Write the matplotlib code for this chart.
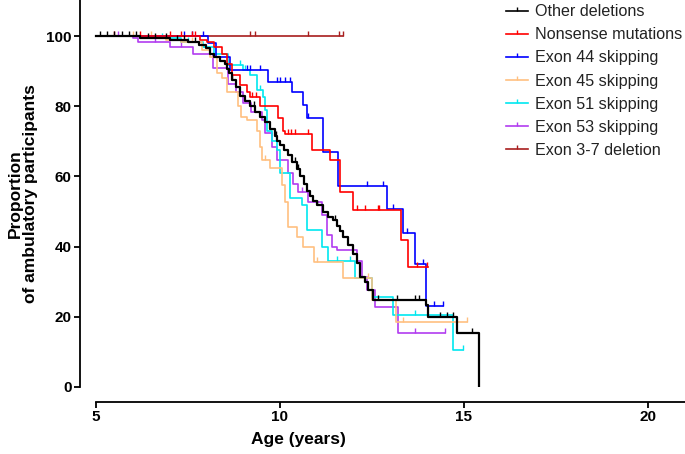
import numpy as np
import matplotlib
matplotlib.use("Agg")
import matplotlib.pyplot as plt
from matplotlib.lines import Line2D

plt.rcParams['font.family'] = ['Liberation Sans', 'DejaVu Sans']

# step change points (age in years, % still ambulatory), end of follow-up, censor marks
other_t = [6.2, 7.0, 7.5, 7.8, 8.0, 8.1, 8.2, 8.37, 8.51, 8.56, 8.62, 8.70, 8.80, 8.91,
           9.05, 9.18, 9.32, 9.46, 9.59, 9.73, 9.86, 9.92, 10.00, 10.10, 10.22, 10.33,
           10.45, 10.54, 10.65, 10.73, 10.82, 10.90, 11.00, 11.17, 11.30, 11.44, 11.55,
           11.63, 11.71, 11.85, 11.98, 12.09, 12.17, 12.31, 12.39, 12.53, 13.97, 14.02,
           14.81, 15.41]
other_s = [99.4, 98.8, 98.2, 97.5, 96.5, 95, 94, 93, 92, 90.5, 89.5, 87.5, 85.5, 83,
           81.5, 80, 78.5, 77, 75.5, 73.5, 71.5, 70, 69, 67.5, 66, 64, 62, 60, 58, 56,
           54.5, 53, 52, 50, 48.5, 47.5, 46, 44.5, 42.7, 40.5, 38, 35.3, 31.3, 30, 27.6,
           24.8, 23.4, 20, 15.4, 0]
other_end = 15.41
other_cens = [5.1, 5.3, 5.5, 5.7, 5.9, 6.1, 6.4, 6.6, 6.9, 7.2, 7.4, 7.7, 8.7, 9.3,
              9.9, 10.4, 10.5, 11.0, 11.5, 12.66, 13.18, 13.67, 13.78, 14.35, 14.54,
              14.70, 15.22]

nons_t = [7.83, 8.02, 8.2, 8.42, 8.56, 8.70, 8.91, 9.10, 9.18, 9.46, 9.95, 10.08,
          10.14, 10.87, 11.36, 11.63, 11.98, 13.29, 13.48]
nons_s = [99, 98.3, 97, 95, 92, 89, 86, 84, 82.6, 80, 76.6, 73, 72, 67.5, 64.7, 55.6,
          50.4, 42, 34.2]
nons_end = 14.02
nons_cens = [5.5, 6.2, 7.0, 7.3, 7.6, 7.7, 9.25, 9.35, 10.22, 10.3, 10.4, 10.75,
             12.09, 12.31, 12.66, 12.69, 13.72, 13.99]

ex44_t = [8.04, 8.26, 8.64, 9.67, 10.33, 10.63, 10.73, 11.17, 11.58, 12.91, 13.34,
          13.67, 13.97]
ex44_s = [98, 94, 90.3, 87, 84, 80.3, 76.6, 67, 57.3, 50.7, 43.9, 35, 23]
ex44_end = 14.43
ex44_cens = [7.4, 7.6, 7.9, 9.1, 9.18, 9.46, 9.92, 10.0, 10.14, 10.27, 10.76, 12.36,
             12.8, 13.07, 13.45, 13.89, 14.18, 14.43]

ex45_t = [6.9, 7.3, 7.88, 8.1, 8.29, 8.42, 8.56, 8.85, 8.95, 9.10, 9.38, 9.46, 9.51,
          9.73, 10.05, 10.14, 10.22, 10.46, 10.63, 10.92, 11.71, 12.50, 13.15]
ex45_s = [99, 98.3, 96, 94, 89.5, 88, 84, 80, 77, 76, 73, 68.5, 64.7, 62.4, 57.5, 52.7,
          45.6, 42.7, 39.9, 35.6, 31, 24.8, 18.5]
ex45_end = 15.08
ex45_cens = [6.0, 6.5, 7.6, 9.6, 11.0, 12.4, 13.34, 15.08]

ex51_t = [6.5, 7.3, 7.9, 8.2, 8.59, 9.0, 9.18, 9.38, 9.54, 9.59, 9.65, 9.78, 9.92,
          10.0, 10.27, 10.60, 10.73, 11.14, 11.30, 12.04, 12.50, 13.07, 14.70]
ex51_s = [99.4, 98.3, 97, 95, 91.7, 90.4, 89, 84.6, 82.6, 79, 73, 70, 67.5, 61, 54,
          51.8, 44.7, 40, 36, 31, 25.6, 20.5, 10.5]
ex51_end = 14.97
ex51_cens = [6.8, 7.5, 8.91, 9.05, 9.45, 11.55, 11.9, 13.67, 14.97]

ex53_t = [6.01, 6.14, 7.01, 7.64, 8.18, 8.59, 8.8, 9.0, 9.2, 9.51, 9.59, 9.78, 9.92,
          10.22, 10.35, 10.49, 10.76, 11.14, 11.28, 11.41, 11.55, 12.09, 12.23, 12.36,
          12.58, 13.21]
ex53_s = [99.4, 98.3, 97, 95, 91, 86.5, 84, 81, 78.5, 76, 72.4, 68.4, 64.7, 61, 58,
          55.6, 52.7, 49, 43.3, 40, 39, 36, 31.3, 27.6, 22.8, 15.4]
ex53_end = 14.48
ex53_cens = [5.6, 6.6, 7.3, 10.6, 13.67, 14.48]

ex37_t = []
ex37_s = []
ex37_end = 11.71
ex37_cens = [9.18, 9.32, 10.76, 11.6, 11.71]

labels = ["Other deletions", "Nonsense mutations", "Exon 44 skipping",
          "Exon 45 skipping", "Exon 51 skipping", "Exon 53 skipping", "Exon 3-7 deletion"]
colors = ["#000000", "#ff0000", "#0000ff", "#ffc080", "#00e8f0", "#b23cf0", "#a81e1e"]

series = [
    (other_t, other_s, other_end, other_cens),
    (nons_t, nons_s, nons_end, nons_cens),
    (ex44_t, ex44_s, ex44_end, ex44_cens),
    (ex45_t, ex45_s, ex45_end, ex45_cens),
    (ex51_t, ex51_s, ex51_end, ex51_cens),
    (ex53_t, ex53_s, ex53_end, ex53_cens),
    (ex37_t, ex37_s, ex37_end, ex37_cens),
]


def km_value(t, times, vals):
    i = np.searchsorted(times, t, side='right')
    return 100.0 if i == 0 else vals[i - 1]


fig = plt.figure(figsize=(6.85, 4.54), dpi=100)
ax = fig.add_axes([80 / 685, 1 - 387 / 454, 1 - 80 / 685, 387 / 454])

# draw back to front so black ends up on top like the original
order = [6, 3, 4, 5, 2, 1, 0]
for k in order:
    times, vals, end, cens = series[k]
    t = [5.0] + list(times) + [end]
    s = [100.0] + list(vals) + [vals[-1] if vals else 100.0]
    lw = 1.6 if k == 0 else 1.2
    ax.step(t, s, where='post', color=colors[k], lw=lw, zorder=3 + (6 - k))
    cy = [km_value(c, times, vals) for c in cens]
    ax.plot(cens, cy, ls='none', marker=2, ms=3.5, mew=1.0, color=colors[k],
            zorder=3 + (6 - k))

ax.set_xlim(5 - 16 / 36.8, 5 + 589 / 36.8)
ax.set_ylim(0, 110.3)
ax.set_xticks([5, 10, 15, 20])
ax.set_yticks([0, 20, 40, 60, 80, 100])

for side in ['top', 'right']:
    ax.spines[side].set_visible(False)
ax.spines['bottom'].set_position(('outward', 10.8))
ax.spines['bottom'].set_bounds(5, 21.5)
ax.spines['left'].set_linewidth(1.3)
ax.spines['bottom'].set_linewidth(1.3)
ax.tick_params(axis='both', direction='out', length=4, width=1.3, labelsize=11, pad=2)
for lab in ax.get_xticklabels() + ax.get_yticklabels():
    lab.set_fontweight('bold')

ax.set_xlabel("Age (years)", fontsize=12.5, fontweight='bold')
ax.xaxis.set_label_coords((298 - 80) / 605, -0.115)
ax.set_ylabel("Proportion\nof ambulatory participants", fontsize=12.5,
              fontweight='bold', labelpad=6, linespacing=1.0)

handles = [Line2D([0], [0], color=c, lw=1.2, marker=2, ms=3, mew=1.0) for c in colors]
leg = ax.legend(handles, labels, loc='upper left', bbox_to_anchor=(504 / 685, 0.994),
                bbox_transform=fig.transFigure, frameon=False, fontsize=11.6,
                handlelength=1.4, handletextpad=0.45, labelspacing=0.5,
                borderaxespad=0.0, borderpad=0.1)
for txt in leg.get_texts():
    txt.set_color('#222222')

fig.savefig("out.png", dpi=100)
